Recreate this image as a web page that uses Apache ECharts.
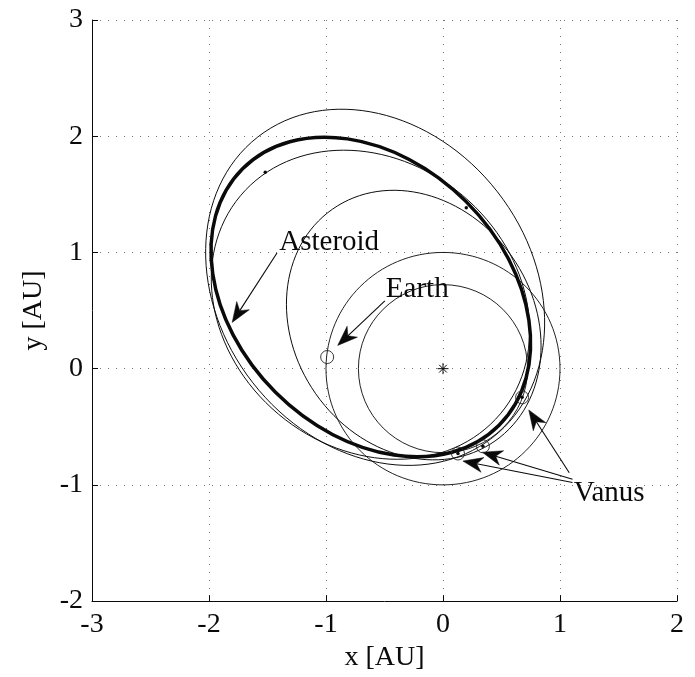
<!DOCTYPE html>
<html>
<head>
<meta charset="utf-8">
<script src="https://cdn.jsdelivr.net/npm/echarts@6/dist/echarts.min.js"></script>
<style>html,body{margin:0;padding:0;background:#fff}#c{width:695px;height:677px}</style>
</head>
<body>
<div id="c"></div>
<script>
// ---- data (AU) ----
const xTicks = [-3, -2, -1, 0, 1, 2];
const yTicks = [-2, -1, 0, 1, 2, 3];
// orbits: Earth, Venus, Asteroid (thick), outer transfer, medium transfer, inner transfer
const orbitName = ['Earth', 'Venus', 'Asteroid', 'Transfer 1', 'Transfer 2', 'Transfer 3'];
const orbitCx   = [0, 0, -0.617, -0.58, -0.25, -0.62];
const orbitCy   = [0, 0, 0.617, 0.70, 0.375, 0.55];
const orbitA    = [1.0, 0.723, 1.55, 1.63, 1.21, 1.45];
const orbitB    = [1.0, 0.723, 1.16, 1.335, 1.03, 1.23];
const orbitTilt = [0, 0, 135, 128, 125, 140];
const sunPos = [[0, 0]];
const earthPos = [[-0.99, 0.10]];
const venusPos = [[0.676, -0.247], [0.341, -0.668], [0.128, -0.73]];
const craftDots = [[-1.519, 1.691], [0.199, 1.384], [0.676, -0.247], [0.341, -0.668], [0.128, -0.73]];
const labelText = ['Asteroid', 'Earth', 'Vanus'];
const labelPos = [[-0.973, 1.09], [-0.22, 0.685], [1.42, -1.075]];
const arrowFrom = [[-1.419, 0.995], [-0.497, 0.583], [1.079, -0.895], [1.107, -0.951], [1.107, -0.98]];
const arrowTo   = [[-1.802, 0.398], [-0.9, 0.2], [0.733, -0.355], [0.336, -0.719], [0.17, -0.795]];

const FONT = 'Liberation Serif';
const INK = '#0a0a0a';
const chart = echarts.init(document.getElementById('c'), null, {renderer: 'canvas'});

const orbitData = orbitName.map((n, i) => [orbitCx[i], orbitCy[i], orbitA[i], orbitB[i], orbitTilt[i]]);
const arrowData = arrowFrom.map((f, i) => [f[0], f[1], arrowTo[i][0], arrowTo[i][1]]);

function axis(min, max, ticks, name, isX) {
  return {
    type: 'value', min: min, max: max, interval: 1,
    name: name, nameLocation: 'middle', nameGap: isX ? 38 : 44,
    nameTextStyle: {fontFamily: FONT, fontSize: 28, color: INK},
    axisLine: {show: true, onZero: false, lineStyle: {color: INK, width: 1}},
    axisTick: {show: true, inside: true, length: 6, lineStyle: {color: INK}},
    axisLabel: {fontFamily: FONT, fontSize: 28, color: INK, margin: isX ? 10 : 9,
      formatter: v => ticks.indexOf(v) >= 0 ? String(v) : ''},
    splitLine: {show: true, lineStyle: {color: '#777', type: [1, 7], width: 1}}
  };
}

chart.setOption({
  animation: false,
  grid: {left: 92, right: 18, top: 20, bottom: 71, containLabel: false},
  xAxis: axis(-3, 2, xTicks, 'x [AU]', true),
  yAxis: axis(-2, 3, yTicks, 'y [AU]', false),
  series: [
    {
      type: 'custom', coordinateSystem: 'cartesian2d', silent: true, clip: false,
      encode: {x: 0, y: 1},
      data: orbitData,
      renderItem: function (params, api) {
        const c = api.coord([api.value(0), api.value(1)]);
        const s = api.size([1, 1]);
        const thick = params.dataIndex === 2;
        return {
          type: 'ellipse',
          x: c[0], y: c[1],
          rotation: api.value(4) * Math.PI / 180,
          shape: {cx: 0, cy: 0, rx: api.value(2) * s[0], ry: api.value(3) * s[1]},
          style: {fill: null, stroke: INK, lineWidth: thick ? 3.5 : 0.9}
        };
      }
    },
    {
      type: 'scatter', silent: true, data: earthPos.concat(venusPos),
      symbol: 'circle', symbolSize: 13,
      itemStyle: {color: 'rgba(0,0,0,0)', borderColor: '#222', borderWidth: 0.9, opacity: 1}
    },
    {
      type: 'scatter', silent: true, data: craftDots,
      symbol: 'circle', symbolSize: 3.5, itemStyle: {color: INK, opacity: 1}
    },
    {
      type: 'scatter', silent: true, data: sunPos,
      symbol: 'path://M0,-6L0,6M-6,0L6,0M-4.2,-4.2L4.2,4.2M-4.2,4.2L4.2,-4.2', symbolSize: 11,
      itemStyle: {color: 'rgba(0,0,0,0)', borderColor: INK, borderWidth: 1, opacity: 1}
    },
    {
      type: 'custom', coordinateSystem: 'cartesian2d', silent: true, clip: false,
      encode: {x: [0, 2], y: [1, 3]},
      data: arrowData,
      renderItem: function (params, api) {
        const p1 = api.coord([api.value(0), api.value(1)]);
        const p2 = api.coord([api.value(2), api.value(3)]);
        const dx = p2[0] - p1[0], dy = p2[1] - p1[1];
        const len = Math.sqrt(dx * dx + dy * dy);
        const ux = dx / len, uy = dy / len, px = -uy, py = ux;
        const L = 20, W = 7.5, N = 14;
        const bx = p2[0] - ux * L, by = p2[1] - uy * L;
        const nx = p2[0] - ux * N, ny = p2[1] - uy * N;
        return {
          type: 'group',
          children: [
            {type: 'line', shape: {x1: p1[0], y1: p1[1], x2: nx, y2: ny},
              style: {stroke: INK, lineWidth: 1.1}},
            {type: 'polygon', shape: {points: [[p2[0], p2[1]], [bx + px * W, by + py * W], [nx, ny], [bx - px * W, by - py * W]]},
              style: {fill: INK, stroke: INK, lineWidth: 0.5}}
          ]
        };
      }
    },
    {
      type: 'scatter', silent: true, symbolSize: 0,
      data: labelPos.map((p, i) => ({value: p, name: labelText[i]})),
      itemStyle: {opacity: 1},
      label: {show: true, position: 'inside', formatter: p => p.name,
        fontFamily: FONT, fontSize: 29, color: INK}
    }
  ]
});
</script>
</body>
</html>
